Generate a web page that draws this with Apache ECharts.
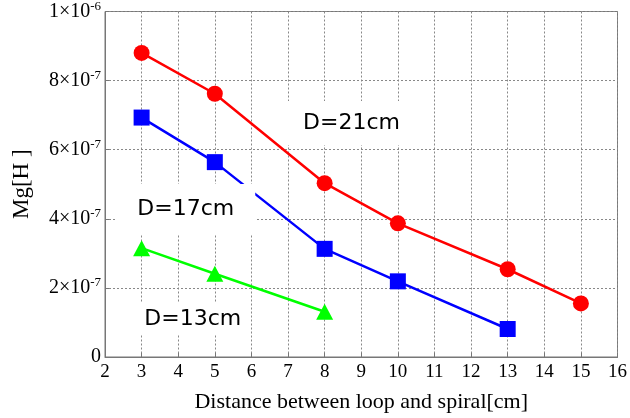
<!DOCTYPE html>
<html>
<head>
<meta charset="utf-8">
<script src="https://cdn.jsdelivr.net/npm/echarts@6/dist/echarts.min.js"></script>
<style>html,body{margin:0;padding:0;background:#fff}#c{width:630px;height:418px}</style>
</head>
<body>
<div id="c"></div>
<script>
const xD21 = [3, 5, 8, 10, 13, 15];
const yD21 = [0.880e-6, 0.762e-6, 0.503e-6, 0.387e-6, 0.254e-6, 0.155e-6];
const xD17 = [3, 5, 8, 10, 13];
const yD17 = [0.693e-6, 0.564e-6, 0.313e-6, 0.219e-6, 0.081e-6];
const xD13 = [3, 5, 8];
const yD13 = [0.315e-6, 0.241e-6, 0.131e-6];
const seriesNames = ['D=21cm', 'D=17cm', 'D=13cm'];
const xTicks = [2, 3, 4, 5, 6, 7, 8, 9, 10, 11, 12, 13, 14, 15, 16];
const yTickLabels = {0: '0', 2: '2×10|-7', 4: '4×10|-7', 6: '6×10|-7', 8: '8×10|-7', 10: '1×10|-6'};

const pair = (xs, ys) => xs.map((x, i) => [x, ys[i]]);
const chart = echarts.init(document.getElementById('c'), null, {renderer: 'canvas'});
const serif = 'Liberation Serif';
const annLabel = (pad) => ({
  show: true, position: 'inside', formatter: p => p.name,
  fontFamily: 'DejaVu Sans', fontSize: 22, lineHeight: 26, color: '#000',
  backgroundColor: '#fff', padding: pad
});
chart.setOption({
  animation: false,
  backgroundColor: '#fff',
  grid: {left: 105, right: 8, top: 11, bottom: 59, show: true, borderColor: '#777', borderWidth: 1},
  xAxis: {
    type: 'value', min: 2, max: 16, interval: 1,
    name: 'Distance between loop and spiral[cm]', nameLocation: 'middle', nameGap: 34,
    nameTextStyle: {fontFamily: serif, fontSize: 22, color: '#000'},
    axisLine: {show: true, lineStyle: {color: '#777', width: 1}},
    axisTick: {show: true, inside: true, length: 4, lineStyle: {color: '#777'}},
    axisLabel: {fontFamily: serif, fontSize: 19, color: '#000', margin: 6,
      formatter: v => xTicks.includes(v) ? String(v) : ''},
    splitLine: {show: true, lineStyle: {type: [2, 2], color: '#888', width: 1}}
  },
  yAxis: {
    type: 'value', min: 0, max: 1e-6, interval: 2e-7,
    name: 'Mg[H ]', nameLocation: 'middle', nameGap: 72,
    nameTextStyle: {fontFamily: serif, fontSize: 23, color: '#000'},
    axisLine: {show: true, lineStyle: {color: '#777', width: 1}},
    axisTick: {show: true, inside: true, length: 4, lineStyle: {color: '#777'}},
    axisLabel: {
      margin: 4,
      formatter: v => {
        const k = Math.round(v / 1e-7);
        const t = yTickLabels[k];
        if (t === undefined) return '';
        if (t.indexOf('|') < 0) return '{b|' + t + '}';
        const [a, b] = t.split('|');
        return '{b|' + a + '}{s|' + b + '}';
      },
      rich: {
        b: {fontFamily: serif, fontSize: 20, color: '#000'},
        s: {fontFamily: serif, fontSize: 13, color: '#000', padding: [0, 0, 10, 0]}
      }
    },
    splitLine: {show: true, lineStyle: {type: [2, 2], color: '#888', width: 1}}
  },
  series: [
    {name: seriesNames[0], type: 'line', data: pair(xD21, yD21), symbol: 'circle', symbolSize: 16,
     lineStyle: {color: '#ff0000', width: 2.5}, itemStyle: {color: '#ff0000'}, z: 2},
    {name: seriesNames[1], type: 'line', data: pair(xD17, yD17), symbol: 'rect', symbolSize: 16,
     lineStyle: {color: '#0000ff', width: 2.5}, itemStyle: {color: '#0000ff'}, z: 2},
    {name: seriesNames[2], type: 'line', data: pair(xD13, yD13), symbol: 'triangle', symbolSize: [17, 16],
     lineStyle: {color: '#00ff00', width: 2.5}, itemStyle: {color: '#00ff00'}, z: 2},
    {name: 'labels', type: 'line', data: [], z: 3,
     markPoint: {
       symbol: 'rect', symbolSize: 0, silent: true, z: 3,
       data: [
         {name: seriesNames[0], coord: [8.72, 0.677e-6], label: annLabel([14, 18, 4, 19])},
         {name: seriesNames[1], coord: [4.207, 0.4267e-6], label: annLabel([15, 21, 10, 21])},
         {name: seriesNames[2], coord: [4.396, 0.1106e-6], label: annLabel([3, 8, 3, 8])}
       ]
     }}
  ]
});
</script>
</body>
</html>
